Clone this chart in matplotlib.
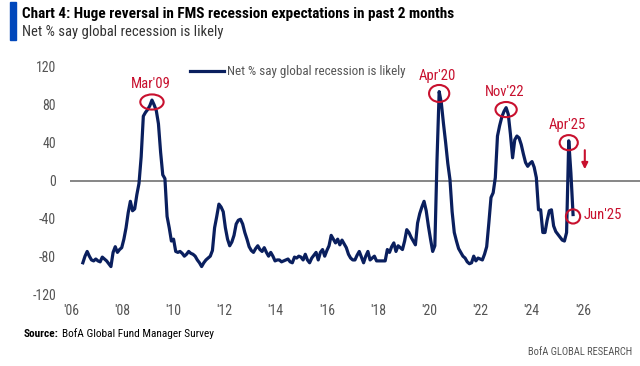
import matplotlib.pyplot as plt
import pandas as pd
from matplotlib import font_manager
from matplotlib.patches import Ellipse


def pick_font():
    # the original chart uses a condensed face, take one if installed
    names = {f.name for f in font_manager.fontManager.ttflist}
    for n in ['Liberation Sans Narrow', 'Roboto Condensed', 'Open Sans Condensed',
              'Noto Sans Condensed', 'Arial Narrow']:
        if n in names:
            return n, 'normal'
    for f in font_manager.fontManager.ttflist:
        if f.stretch in ('condensed', 'semi-condensed') and \
                f.name in ('DejaVu Sans', 'Noto Sans', 'Open Sans', 'Roboto'):
            return f.name, f.stretch
    return 'Liberation Sans', 'normal'


FONT, STRETCH = pick_font()
plt.rcParams['font.family'] = FONT
plt.rcParams['font.stretch'] = STRETCH
plt.rcParams['axes.unicode_minus'] = False

NAVY = '#0a1f5e'
RED = '#c8102e'
GREY = '#555555'

# Net % of FMS investors saying a global recession is likely, monthly from Jul 2006
start = '2006-07-01'
net_pct = [
    -87, -80, -75, -80, -84, -85,                               # 2006 (Jul-Dec)
    -83, -85, -86, -81, -83, -85, -88, -91, -76, -70, -76, -73,  # 2007
    -71, -62, -50, -34, -22, -32, -30, -15, -3, 25, 68, 72,      # 2008
    75, 79, 85, 80, 74, 60, 30, 6, 2, -38, -50, -64,             # 2009
    -62, -75, -76, -75, -77, -80, -78, -75, -77, -78, -80, -84,  # 2010
    -87, -91, -87, -84, -82, -80, -74, -50, -38, -25, -28, -33,  # 2011
    -50, -62, -69, -65, -58, -46, -42, -41, -46, -55, -62, -70,  # 2012
    -74, -76, -72, -69, -73, -75, -71, -76, -80, -76, -80, -85,  # 2013
    -84, -84, -86, -85, -84, -83, -86, -87, -81, -82, -80, -81,  # 2014
    -84, -78, -84, -87, -82, -79, -76, -84, -76, -73, -80, -74,  # 2015
    -69, -58, -62, -66, -62, -68, -63, -67, -71, -78, -82, -84,  # 2016
    -84, -79, -75, -81, -87, -80, -75, -84, -82, -80, -85, -85,  # 2017
    -85, -85, -85, -73, -76, -70, -66, -75, -69, -71, -73, -64,  # 2018
    -52, -55, -60, -64, -68, -45, -35, -28, -22, -32, -48, -62,  # 2019
    -75, -69, 22, 94, 82, 60, 40, 18, 1, -33, -55, -64,          # 2020
    -72, -76, -80, -82, -86, -88, -87, -80, -85, -82, -83, -84,  # 2021
    -78, -70, -45, -18, -13, 3, 47, 58, 67, 73, 77, 70,          # 2022
    49, 24, 43, 47, 45, 38, 28, 19, 15, 18, 20, 14,              # 2023
    3, -31, -31, -55, -55, -42, -32, -31, -48, -54, -57, -60,    # 2024
    -63, -64, -55, 42, 8, -36,                                   # 2025 (Jan-Jun)
]

x_ticks = list(range(2006, 2027, 2))
x_ticklabels = ["'06", "'08", "'10", "'12", "'14", "'16", "'18", "'20", "'22", "'24", "'26"]
y_ticks = [-120, -80, -40, 0, 40, 80, 120]

ann_labels = ["Mar'09", "Apr'20", "Nov'22", "Apr'25", "Jun'25"]
ann_months = ['2009-03-01', '2020-04-01', '2022-11-01', '2025-04-01', '2025-06-01']

title = 'Chart 4: Huge reversal in FMS recession expectations in past 2 months'
subtitle = 'Net % say global recession is likely'
series_name = 'Net % say global recession is likely'

dates = pd.date_range(start, periods=len(net_pct), freq='MS')
t = dates.year + (dates.month - 1) / 12
series = pd.Series(net_pct, index=dates)

fig = plt.figure(figsize=(6.4, 3.66), dpi=100)
ax = fig.add_axes([69.9 / 640, 72 / 366, 570.1 / 640, 227 / 366])

ax.axhline(0, color='#666666', lw=1.1, zorder=1)
ax.plot(t, net_pct, color=NAVY, lw=2.3, label=series_name, zorder=3,
        solid_joinstyle='round')

ax.set_xlim(2006, 2028)
ax.set_ylim(-120, 120)
ax.set_xticks([])
ax.set_yticks(y_ticks)
ax.tick_params(length=0, labelsize=10, labelcolor=GREY)
ax.tick_params(axis='y', pad=10)
for s in ax.spines.values():
    s.set_visible(False)

# the year labels sit on their own scale, slightly tighter than the data axis
lab_ax = ax.twiny()
lab_ax.set_xlim(2005.957, 2028.227)
lab_ax.xaxis.set_ticks_position('bottom')
lab_ax.set_xticks(x_ticks)
lab_ax.set_xticklabels(x_ticklabels)
lab_ax.tick_params(length=0, labelsize=10, labelcolor=GREY, pad=7)
for s in lab_ax.spines.values():
    s.set_visible(False)

# red circles + labels on the turning points
sizes = [(0.9, 16), (0.78, 18), (0.82, 16), (0.7, 16), (0.55, 15)]
for lab, m, (w, h) in zip(ann_labels, ann_months, sizes):
    d = pd.Timestamp(m)
    xv = d.year + (d.month - 1) / 12
    yv = series[d]
    ax.add_patch(Ellipse((xv, yv - 2), w, h, fill=False, ec=RED, lw=1.5, zorder=4))
    if lab == "Jun'25":
        ax.text(xv + 0.42, yv, lab, color=RED, fontsize=10.5, ha='left', va='center')
    else:
        ax.text(xv - 0.05, yv + 17, lab, color=RED, fontsize=10.5, ha='center', va='center')

ax.annotate('', xy=(2025.87, 9), xytext=(2025.87, 35),
            arrowprops=dict(arrowstyle='-|>', color=RED, lw=1.5, mutation_scale=9))

leg = ax.legend(loc='center left', bbox_to_anchor=(190 / 640, 1 - 72 / 366),
                bbox_transform=fig.transFigure, frameon=False, fontsize=9.4,
                handlelength=2.6, handletextpad=0.2, borderaxespad=0, borderpad=0)
for txt in leg.get_texts():
    txt.set_color(GREY)

# header
fig.patches.append(plt.Rectangle((10 / 640, 1 - 40 / 366), 6 / 640, 38 / 366,
                                 transform=fig.transFigure, color='#0047bb'))
fig.text(22 / 640, 1 - 14 / 366, title, fontsize=11, fontweight='bold', va='center')
fig.text(22 / 640, 1 - 32 / 366, subtitle, fontsize=10.5, color='#333333', va='center')

# footer: bold "Source:" then the rest right after it
src = fig.text(24 / 640, 1 - 334 / 366, 'Source:', fontsize=8.2, fontweight='bold', va='center')
fig.canvas.draw()
bb = src.get_window_extent()
fig.text((bb.x1 + 3) / 640, 1 - 334 / 366, 'BofA Global Fund Manager Survey',
         fontsize=8.2, va='center')
fig.text(632 / 640, 1 - 352 / 366, 'BofA GLOBAL RESEARCH', fontsize=7.6, color=GREY,
         ha='right', va='center')

fig.savefig('out.png', dpi=100)
